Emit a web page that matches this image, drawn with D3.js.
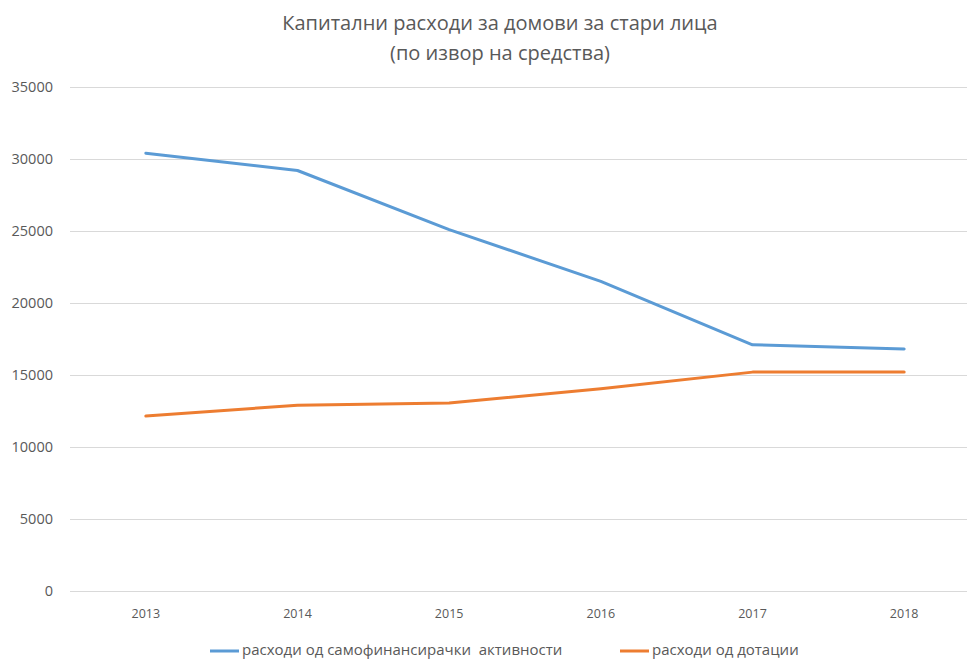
<!DOCTYPE html>
<html>
<head>
<meta charset="utf-8">
<script src="https://cdn.jsdelivr.net/npm/d3@7"></script>
<style>
  body { margin: 0; background: #fff; }
  svg { display: block; font-family: "Open Sans", "DejaVu Sans", sans-serif; }
</style>
</head>
<body>
<svg width="967" height="660"></svg>
<script>
// chart data
var years = ["2013", "2014", "2015", "2016", "2017", "2018"];
var selfFinanced = [30400, 29200, 25100, 21500, 17100, 16800];
var subsidies = [12150, 12900, 13050, 14050, 15200, 15200];
var yTicks = [0, 5000, 10000, 15000, 20000, 25000, 30000, 35000];
var seriesNames = ["расходи од самофинансирачки  активности", "расходи од дотации"];
var colors = ["#5b9bd5", "#ed7d31"];

var svg = d3.select("svg");
var textColor = "#595959";

var x = d3.scaleBand().domain(years).range([70, 980]);
var y = d3.scaleLinear().domain([0, 35000]).range([591, 87]);

// title
var title = svg
  .append("text")
  .attr("x", 500)
  .attr("text-anchor", "middle")
  .attr("fill", textColor)
  .attr("font-size", "20px");
title.append("tspan").attr("x", 500).attr("y", 30).text("Капитални расходи за домови за стари лица");
title.append("tspan").attr("x", 500).attr("y", 60).text("(по извор на средства)");

// gridlines
svg
  .selectAll(".grid")
  .data(yTicks)
  .enter()
  .append("line")
  .attr("class", "grid")
  .attr("x1", 70)
  .attr("x2", 980)
  .attr("y1", (d) => Math.round(y(d)) + 0.5)
  .attr("y2", (d) => Math.round(y(d)) + 0.5)
  .attr("stroke", "#d9d9d9")
  .attr("stroke-width", 1);

// y labels
svg
  .selectAll(".ylab")
  .data(yTicks)
  .enter()
  .append("text")
  .attr("class", "ylab")
  .attr("x", 53)
  .attr("y", (d) => y(d) + 5)
  .attr("text-anchor", "end")
  .attr("fill", textColor)
  .attr("font-size", "14.5px")
  .text((d) => d);

// x labels
svg
  .selectAll(".xlab")
  .data(years)
  .enter()
  .append("text")
  .attr("class", "xlab")
  .attr("x", (d) => x(d) + x.bandwidth() / 2)
  .attr("y", 618)
  .attr("text-anchor", "middle")
  .attr("fill", textColor)
  .attr("font-size", "12.5px")
  .text((d) => d);

// lines
var line = d3
  .line()
  .x((d, i) => x(years[i]) + x.bandwidth() / 2)
  .y((d) => y(d));

[selfFinanced, subsidies].forEach(function (s, i) {
  svg
    .append("path")
    .datum(s)
    .attr("d", line)
    .attr("fill", "none")
    .attr("stroke", colors[i])
    .attr("stroke-width", 3)
    .attr("stroke-linecap", "round")
    .attr("stroke-linejoin", "round");
});

// legend
var legendX = [210, 620];
seriesNames.forEach(function (name, i) {
  svg
    .append("line")
    .attr("x1", legendX[i])
    .attr("x2", legendX[i] + 29)
    .attr("y1", 651)
    .attr("y2", 651)
    .attr("stroke", colors[i])
    .attr("stroke-width", 3);
  svg
    .append("text")
    .attr("x", legendX[i] + 32)
    .attr("y", 655)
    .attr("fill", textColor)
    .attr("font-size", "15px")
    .style("white-space", "pre")
    .text(name);
});
</script>
</body>
</html>
